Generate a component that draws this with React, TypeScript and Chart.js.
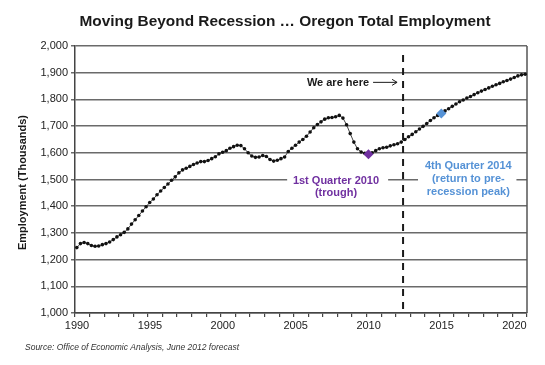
import React, { useEffect, useRef } from 'react';
import { Chart, registerables } from 'chart.js';

Chart.register(...registerables);

// ---- Data ----
const START_YEAR = 1990;
const QUARTER_COUNT = 124; // 1990 Q1 .. 2020 Q4
const xTickLabels = ['1990', '1995', '2000', '2005', '2010', '2015', '2020'];
const yTickValues = [1000, 1100, 1200, 1300, 1400, 1500, 1600, 1700, 1800, 1900, 2000];

// Actual employment, thousands, 1990 Q1 .. 2012 Q2
const actualEmployment = [
  1245, 1260, 1264, 1260, 1253, 1250, 1251, 1256, 1260, 1266,
  1275, 1285, 1293, 1302, 1315, 1333, 1349, 1365, 1382, 1398,
  1414, 1427, 1443, 1457, 1470, 1483, 1497, 1510, 1525, 1536,
  1542, 1549, 1556, 1562, 1567, 1567, 1571, 1578, 1585, 1596,
  1602, 1608, 1617, 1623, 1628, 1627, 1615, 1600, 1588, 1583,
  1584, 1590, 1586, 1575, 1569, 1572, 1578, 1584, 1605, 1617,
  1628, 1640, 1650, 1662, 1678, 1694, 1706, 1716, 1726, 1731,
  1732, 1735, 1740, 1730, 1705, 1672, 1640, 1615, 1603, 1598,
  1595, 1600, 1608, 1615, 1619, 1621, 1626, 1630, 1634, 1640,
];
// Forecast, 2012 Q3 .. 2020 Q4
const forecastEmployment = [
  1650, 1660, 1669, 1679, 1689, 1699, 1710, 1721, 1731, 1740,
  1747, 1757, 1765, 1774, 1783, 1791, 1798, 1805, 1811, 1818,
  1825, 1831, 1837, 1843, 1849, 1855, 1860, 1866, 1871, 1876,
  1882, 1888, 1892, 1894,
];
const troughQuarterIndex = [80]; // 1st Quarter 2010
const troughValue = [1595];
const recoveryQuarterIndex = [100]; // return to pre-recession peak
const recoveryValue = [1747];
const nowQuarterBoundary = 90; // June 2012 forecast

const employment = [...actualEmployment, ...forecastEmployment];

const FONT = '"Liberation Sans", Arial, Helvetica, sans-serif';
const PURPLE = '#7030A0';
const BLUE = '#5592D6';

const annotationPlugin = {
  id: 'oregonAnnotations',
  beforeDatasetsDraw(chart: any) {
    const { ctx, scales, chartArea } = chart;
    const x = scales.x;
    const y = scales.y;
    ctx.save();
    // right border of plot
    ctx.strokeStyle = '#555';
    ctx.lineWidth = 1.5;
    ctx.beginPath();
    ctx.moveTo(chartArea.right, chartArea.top);
    ctx.lineTo(chartArea.right, chartArea.bottom);
    ctx.stroke();
    // white boxes behind callout text
    ctx.fillStyle = '#ffffff';
    const b1l = x.getPixelForValue(58.2);
    const b1r = x.getPixelForValue(85.9);
    const bTop = y.getPixelForValue(1530);
    const bBot = y.getPixelForValue(1425);
    ctx.fillRect(b1l, bTop, b1r - b1l, bBot - bTop);
    const b2l = x.getPixelForValue(94.1);
    const b2r = x.getPixelForValue(121.1);
    ctx.fillRect(b2l, y.getPixelForValue(1575), b2r - b2l, y.getPixelForValue(1430) - y.getPixelForValue(1575));
    ctx.restore();
  },
  afterDatasetsDraw(chart: any) {
    const { ctx, scales, chartArea } = chart;
    const x = scales.x;
    const y = scales.y;
    ctx.save();
    // dashed "now" line
    const xn = x.getPixelForValue(nowQuarterBoundary);
    ctx.strokeStyle = '#1a1a1a';
    ctx.lineWidth = 2;
    ctx.setLineDash([7, 6]);
    ctx.beginPath();
    ctx.moveTo(xn, y.getPixelForValue(1966));
    ctx.lineTo(xn, chartArea.bottom);
    ctx.stroke();
    ctx.setLineDash([]);

    // "We are here" + arrow
    ctx.fillStyle = '#1a1a1a';
    ctx.font = `bold 11px ${FONT}`;
    ctx.textAlign = 'right';
    ctx.textBaseline = 'middle';
    const yw = y.getPixelForValue(1862);
    ctx.fillText('We are here', xn - 34, yw);
    ctx.lineWidth = 1;
    ctx.strokeStyle = '#1a1a1a';
    ctx.beginPath();
    ctx.moveTo(xn - 30, yw - 0.5);
    ctx.lineTo(xn - 6, yw - 0.5);
    ctx.moveTo(xn - 11, yw - 3.5);
    ctx.lineTo(xn - 6, yw - 0.5);
    ctx.lineTo(xn - 11, yw + 2.5);
    ctx.stroke();

    // callouts
    ctx.textAlign = 'center';
    ctx.fillStyle = PURPLE;
    const c1 = x.getPixelForValue(71.6);
    ctx.fillText('1st Quarter 2010', c1, y.getPixelForValue(1495));
    ctx.fillText('(trough)', c1, y.getPixelForValue(1448));
    ctx.fillStyle = BLUE;
    const c2 = x.getPixelForValue(107.9);
    ctx.fillText('4th Quarter 2014', c2, y.getPixelForValue(1550));
    ctx.fillText('(return to pre-', c2, y.getPixelForValue(1501));
    ctx.fillText('recession peak)', c2, y.getPixelForValue(1454));
    ctx.restore();
  },
  afterDraw(chart: any) {
    const { ctx, chartArea } = chart;
    ctx.save();
    ctx.fillStyle = '#1a1a1a';
    ctx.textAlign = 'center';
    ctx.textBaseline = 'middle';
    ctx.font = `bold 15.4px ${FONT}`;
    ctx.fillText('Moving Beyond Recession \u2026 Oregon Total Employment', 285, 22);
    ctx.save();
    ctx.translate(23, (chartArea.top + chartArea.bottom) / 2 + 3);
    ctx.rotate(-Math.PI / 2);
    ctx.font = `bold 11px ${FONT}`;
    ctx.fillText('Employment (Thousands)', 0, 0);
    ctx.restore();
    ctx.textAlign = 'left';
    ctx.font = `italic 8.5px ${FONT}`;
    ctx.fillStyle = '#333';
    ctx.fillText('Source: Office of Economic Analysis, June 2012 forecast', 25, 348);
    ctx.restore();
  },
};

export default function App() {
  const canvasRef = useRef<HTMLCanvasElement | null>(null);

  useEffect(() => {
    const canvas = canvasRef.current;
    if (!canvas) return;
    const points = employment.map((v, i) => ({ x: i + 0.5, y: v }));
    const trough = troughQuarterIndex.map((q, k) => ({ x: q + 0.5, y: troughValue[k] }));
    const recovery = recoveryQuarterIndex.map((q, k) => ({ x: q + 0.5, y: recoveryValue[k] }));

    const chart = new Chart(canvas, {
      type: 'line',
      data: {
        datasets: [
          {
            data: recovery,
            showLine: false,
            pointStyle: 'rectRot',
            pointRadius: 5,
            pointBackgroundColor: BLUE,
            pointBorderColor: BLUE,
            pointBorderWidth: 0,
            order: 0,
          },
          {
            data: trough,
            showLine: false,
            pointStyle: 'rectRot',
            pointRadius: 5,
            pointBackgroundColor: PURPLE,
            pointBorderColor: PURPLE,
            pointBorderWidth: 0,
            order: 0,
          },
          {
            data: points,
            borderColor: '#444',
            borderWidth: 1,
            pointRadius: 1.8,
            pointBackgroundColor: '#111',
            pointBorderWidth: 0,
            tension: 0,
            order: 1,
          },
        ],
      },
      options: {
        animation: false,
        responsive: false,
        maintainAspectRatio: false,
        devicePixelRatio: 1,
        layout: { padding: { top: 46, right: 18, bottom: 0, left: 0 } },
        plugins: {
          legend: { display: false },
          title: { display: false },
          tooltip: { enabled: false },
        },
        scales: {
          x: {
            type: 'linear',
            min: 0,
            max: QUARTER_COUNT,
            afterBuildTicks: (axis: any) => {
              const t = [];
              for (let v = 0; v <= QUARTER_COUNT; v += 4) t.push({ value: v });
              axis.ticks = t;
            },
            afterFit: (scale: any) => {
              scale.height = 52;
            },
            ticks: {
              autoSkip: false,
              maxRotation: 0,
              minRotation: 0,
              padding: 2,
              labelOffset: 2,
              color: '#222',
              font: { family: FONT, size: 11 },
              callback: (v: any) => {
                const n = Number(v);
                if (n % 20 === 0) {
                  const idx = n / 20;
                  return xTickLabels[idx] ?? String(START_YEAR + n / 4);
                }
                return '';
              },
            },
            grid: {
              drawOnChartArea: false,
              drawTicks: true,
              tickLength: 4,
              color: '#444',
              lineWidth: 1.2,
            },
            border: { display: true, color: '#444', width: 1.5 },
          },
          y: {
            type: 'linear',
            min: 1000,
            max: 2000,
            afterBuildTicks: (axis: any) => {
              axis.ticks = yTickValues.map((v) => ({ value: v }));
            },
            afterFit: (scale: any) => {
              scale.width = 75;
            },
            ticks: {
              padding: 3,
              color: '#222',
              font: { family: FONT, size: 11 },
              callback: (v: any) => Number(v).toLocaleString('en-US'),
            },
            grid: {
              color: '#6a6a6a',
              lineWidth: 1.5,
              tickLength: 4,
            },
            border: { display: true, color: '#444', width: 1.5 },
          },
        },
      },
      plugins: [annotationPlugin],
    });
    return () => chart.destroy();
  }, []);

  return (
    <div style={{ position: 'fixed', left: 0, top: 0, width: 545, height: 365, background: '#fff' }}>
      <canvas ref={canvasRef} width={545} height={365} style={{ width: 545, height: 365, display: 'block' }} />
    </div>
  );
}
